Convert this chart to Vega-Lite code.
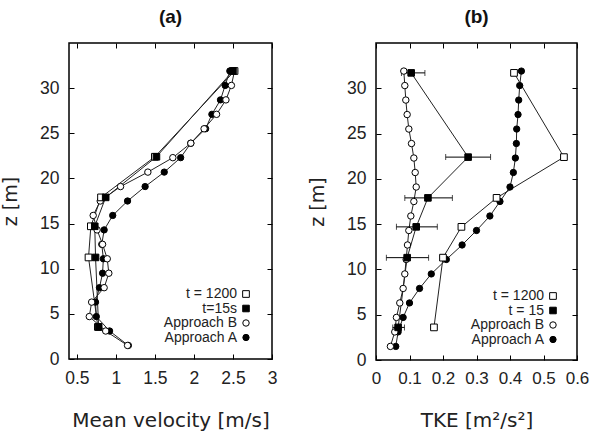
{
  "$schema": "https://vega.github.io/schema/vega-lite/v6.json",
  "background": "white",
  "padding": {"left": 0, "top": 6, "right": 5, "bottom": 5},
  "spacing": 29,
  "config": {
    "view": {"stroke": "black", "strokeWidth": 1.5},
    "font": "Liberation Sans",
    "axis": {"grid": false, "domain": false, "tickColor": "black", "tickSize": 5, "offset": -5, "tickWidth": 1, "labelFontSize": 17.5, "labelColor": "#222", "labelPadding": 10, "labelOverlap": false, "labelFlush": false, "titleFontWeight": "normal", "titleFontSize": 18, "titleColor": "#222", "format": "~g"},
    "legend": {"orient": "none", "legendX": 170, "legendY": 244, "title": null, "labelFontSize": 14, "labelColor": "#222", "labelAlign": "right", "labelOffset": -16, "rowPadding": 0.5, "symbolStrokeColor": "black", "symbolStrokeWidth": 1},
    "title": {"fontSize": 19, "fontWeight": "bold", "offset": 16, "color": "#111"}
  },
  "datasets": {
    "a": [
      {"series": "Approach A", "z": 1.5, "u": 1.16}, {"series": "Approach A", "z": 3.1, "u": 0.92}, {"series": "Approach A", "z": 4.7, "u": 0.75}, {"series": "Approach A", "z": 6.3, "u": 0.74}, {"series": "Approach A", "z": 7.9, "u": 0.79}, {"series": "Approach A", "z": 9.5, "u": 0.83}, {"series": "Approach A", "z": 11.1, "u": 0.84}, {"series": "Approach A", "z": 12.7, "u": 0.82}, {"series": "Approach A", "z": 14.3, "u": 0.85}, {"series": "Approach A", "z": 15.9, "u": 0.96}, {"series": "Approach A", "z": 17.5, "u": 1.15}, {"series": "Approach A", "z": 19.1, "u": 1.375}, {"series": "Approach A", "z": 20.7, "u": 1.62}, {"series": "Approach A", "z": 22.3, "u": 1.83}, {"series": "Approach A", "z": 23.9, "u": 1.96}, {"series": "Approach A", "z": 25.5, "u": 2.15}, {"series": "Approach A", "z": 27.1, "u": 2.23}, {"series": "Approach A", "z": 28.7, "u": 2.34}, {"series": "Approach A", "z": 30.3, "u": 2.4}, {"series": "Approach A", "z": 31.9, "u": 2.46},
      {"series": "Approach B", "z": 1.5, "u": 1.15}, {"series": "Approach B", "z": 3.1, "u": 0.87}, {"series": "Approach B", "z": 4.7, "u": 0.66}, {"series": "Approach B", "z": 6.3, "u": 0.69}, {"series": "Approach B", "z": 7.9, "u": 0.85}, {"series": "Approach B", "z": 9.5, "u": 0.91}, {"series": "Approach B", "z": 11.1, "u": 0.89}, {"series": "Approach B", "z": 12.7, "u": 0.83}, {"series": "Approach B", "z": 14.3, "u": 0.76}, {"series": "Approach B", "z": 15.9, "u": 0.71}, {"series": "Approach B", "z": 17.5, "u": 0.8}, {"series": "Approach B", "z": 19.1, "u": 1.06}, {"series": "Approach B", "z": 20.7, "u": 1.41}, {"series": "Approach B", "z": 22.3, "u": 1.73}, {"series": "Approach B", "z": 23.9, "u": 1.96}, {"series": "Approach B", "z": 25.5, "u": 2.13}, {"series": "Approach B", "z": 27.1, "u": 2.29}, {"series": "Approach B", "z": 28.7, "u": 2.41}, {"series": "Approach B", "z": 30.3, "u": 2.48}, {"series": "Approach B", "z": 31.9, "u": 2.52},
      {"series": "t = 1200", "z": 3.55, "u": 0.77}, {"series": "t = 1200", "z": 11.25, "u": 0.65}, {"series": "t = 1200", "z": 14.7, "u": 0.68}, {"series": "t = 1200", "z": 17.9, "u": 0.81}, {"series": "t = 1200", "z": 22.4, "u": 1.5}, {"series": "t = 1200", "z": 31.9, "u": 2.52},
      {"series": "t=15s", "z": 3.55, "u": 0.78}, {"series": "t=15s", "z": 11.25, "u": 0.74}, {"series": "t=15s", "z": 14.7, "u": 0.73}, {"series": "t=15s", "z": 17.9, "u": 0.87}, {"series": "t=15s", "z": 22.4, "u": 1.52}, {"series": "t=15s", "z": 31.9, "u": 2.5}
    ],
    "b": [
      {"series": "Approach A", "z": 1.5, "k": 0.059}, {"series": "Approach A", "z": 3.1, "k": 0.066}, {"series": "Approach A", "z": 4.7, "k": 0.081}, {"series": "Approach A", "z": 6.3, "k": 0.1}, {"series": "Approach A", "z": 7.9, "k": 0.13}, {"series": "Approach A", "z": 9.5, "k": 0.165}, {"series": "Approach A", "z": 11.1, "k": 0.21}, {"series": "Approach A", "z": 12.7, "k": 0.257}, {"series": "Approach A", "z": 14.3, "k": 0.3}, {"series": "Approach A", "z": 15.9, "k": 0.34}, {"series": "Approach A", "z": 17.5, "k": 0.37}, {"series": "Approach A", "z": 19.1, "k": 0.4}, {"series": "Approach A", "z": 20.7, "k": 0.41}, {"series": "Approach A", "z": 22.3, "k": 0.416}, {"series": "Approach A", "z": 23.9, "k": 0.419}, {"series": "Approach A", "z": 25.5, "k": 0.42}, {"series": "Approach A", "z": 27.1, "k": 0.424}, {"series": "Approach A", "z": 28.7, "k": 0.426}, {"series": "Approach A", "z": 30.3, "k": 0.429}, {"series": "Approach A", "z": 31.9, "k": 0.434},
      {"series": "Approach B", "z": 1.5, "k": 0.043}, {"series": "Approach B", "z": 3.1, "k": 0.056}, {"series": "Approach B", "z": 4.7, "k": 0.061}, {"series": "Approach B", "z": 6.3, "k": 0.071}, {"series": "Approach B", "z": 7.9, "k": 0.081}, {"series": "Approach B", "z": 9.5, "k": 0.086}, {"series": "Approach B", "z": 11.1, "k": 0.09}, {"series": "Approach B", "z": 12.7, "k": 0.094}, {"series": "Approach B", "z": 14.3, "k": 0.098}, {"series": "Approach B", "z": 15.9, "k": 0.104}, {"series": "Approach B", "z": 17.5, "k": 0.113}, {"series": "Approach B", "z": 19.1, "k": 0.12}, {"series": "Approach B", "z": 20.7, "k": 0.117}, {"series": "Approach B", "z": 22.3, "k": 0.113}, {"series": "Approach B", "z": 23.9, "k": 0.106}, {"series": "Approach B", "z": 25.5, "k": 0.098}, {"series": "Approach B", "z": 27.1, "k": 0.093}, {"series": "Approach B", "z": 28.7, "k": 0.089}, {"series": "Approach B", "z": 30.3, "k": 0.086}, {"series": "Approach B", "z": 31.9, "k": 0.083},
      {"series": "t = 1200", "z": 3.6, "k": 0.173}, {"series": "t = 1200", "z": 11.3, "k": 0.2}, {"series": "t = 1200", "z": 14.7, "k": 0.255}, {"series": "t = 1200", "z": 17.9, "k": 0.36}, {"series": "t = 1200", "z": 22.4, "k": 0.561}, {"series": "t = 1200", "z": 31.7, "k": 0.412},
      {"series": "t = 15", "z": 3.6, "k": 0.066, "lo": 0.05, "hi": 0.085}, {"series": "t = 15", "z": 11.3, "k": 0.093, "lo": 0.031, "hi": 0.157}, {"series": "t = 15", "z": 14.7, "k": 0.12, "lo": 0.061, "hi": 0.183}, {"series": "t = 15", "z": 17.9, "k": 0.155, "lo": 0.086, "hi": 0.228}, {"series": "t = 15", "z": 22.4, "k": 0.275, "lo": 0.208, "hi": 0.342}, {"series": "t = 15", "z": 31.7, "k": 0.105, "lo": 0.076, "hi": 0.146}
    ]
  },
  "resolve": {"scale": {"shape": "independent", "fill": "independent", "size": "independent", "stroke": "independent"}, "legend": {"shape": "independent", "fill": "independent", "size": "independent", "stroke": "independent"}},
  "hconcat": [
    {
      "title": "(a)",
      "width": 203,
      "height": 316,
      "data": {"name": "a"},
      "resolve": {"axis": {"x": "independent", "y": "independent"}},
      "layer": [
        {
          "mark": {"type": "line", "color": "#222", "strokeWidth": 1},
          "encoding": {
            "x": {"field": "u", "type": "quantitative", "scale": {"domain": [0.5, 3]}, "axis": {"values": [0.5, 1, 1.5, 2, 2.5, 3], "title": "Mean velocity [m/s]", "titleFont": "DejaVu Sans", "titleFontSize": 20, "titlePadding": 24}},
            "y": {"field": "z", "type": "quantitative", "scale": {"domain": [0, 34]}, "axis": {"values": [0, 5, 10, 15, 20, 25, 30], "title": "z [m]", "titleFont": "DejaVu Sans", "titleFontSize": 19, "titlePadding": 19}},
            "detail": {"field": "series"},
            "order": {"field": "z"}
          }
        },
        {
          "mark": {"type": "point", "filled": true, "strokeWidth": 1, "opacity": 1},
          "encoding": {
            "x": {"field": "u", "type": "quantitative", "axis": null},
            "y": {"field": "z", "type": "quantitative", "axis": null},
            "shape": {"field": "series", "type": "nominal", "scale": {"domain": ["t = 1200", "t=15s", "Approach B", "Approach A"], "range": ["square", "square", "circle", "circle"]}},
            "fill": {"field": "series", "type": "nominal", "scale": {"domain": ["t = 1200", "t=15s", "Approach B", "Approach A"], "range": ["white", "black", "white", "black"]}},
            "stroke": {"field": "series", "type": "nominal", "scale": {"domain": ["t = 1200", "t=15s", "Approach B", "Approach A"], "range": ["black", "black", "black", "black"]}},
            "size": {"field": "series", "type": "nominal", "scale": {"domain": ["t = 1200", "t=15s", "Approach B", "Approach A"], "range": [45, 40, 40, 18]}}
          }
        },
        {
          "mark": {"type": "point", "opacity": 0},
          "encoding": {
            "x": {"field": "u", "type": "quantitative", "axis": {"orient": "top", "values": [0.5, 1, 1.5, 2, 2.5, 3], "labels": false, "title": null}},
            "y": {"field": "z", "type": "quantitative", "axis": {"orient": "right", "values": [0, 5, 10, 15, 20, 25, 30], "labels": false, "title": null}}
          }
        }
      ]
    },
    {
      "title": "(b)",
      "width": 201,
      "height": 317,
      "data": {"name": "b"},
      "resolve": {"axis": {"x": "independent", "y": "independent"}},
      "layer": [
        {
          "mark": {"type": "line", "color": "#222", "strokeWidth": 1},
          "encoding": {
            "x": {"field": "k", "type": "quantitative", "scale": {"domain": [0, 0.6]}, "axis": {"values": [0, 0.1, 0.2, 0.3, 0.4, 0.5, 0.6], "labelFontSize": 17, "title": "TKE [m²/s²]", "titleFont": "DejaVu Sans", "titleFontSize": 20, "titlePadding": 24}},
            "y": {"field": "z", "type": "quantitative", "scale": {"domain": [0, 34]}, "axis": {"values": [0, 5, 10, 15, 20, 25, 30], "title": "z [m]", "titleFont": "DejaVu Sans", "titleFontSize": 19, "titlePadding": 19}},
            "detail": {"field": "series"},
            "order": {"field": "z"}
          }
        },
        {
          "transform": [{"filter": "datum.series === 't = 15'"}],
          "mark": {"type": "errorbar", "ticks": {"size": 6, "color": "black"}, "rule": {"color": "black"}},
          "encoding": {
            "x": {"field": "lo", "type": "quantitative", "axis": null},
            "x2": {"field": "hi"},
            "y": {"field": "z", "type": "quantitative", "axis": null}
          }
        },
        {
          "mark": {"type": "point", "filled": true, "strokeWidth": 1, "opacity": 1},
          "encoding": {
            "x": {"field": "k", "type": "quantitative", "axis": null},
            "y": {"field": "z", "type": "quantitative", "axis": null},
            "shape": {"field": "series", "type": "nominal", "scale": {"domain": ["t = 1200", "t = 15", "Approach B", "Approach A"], "range": ["square", "square", "circle", "circle"]}, "legend": {"legendY": 246}},
            "fill": {"field": "series", "type": "nominal", "scale": {"domain": ["t = 1200", "t = 15", "Approach B", "Approach A"], "range": ["white", "black", "white", "black"]}, "legend": {"legendY": 246}},
            "stroke": {"field": "series", "type": "nominal", "scale": {"domain": ["t = 1200", "t = 15", "Approach B", "Approach A"], "range": ["black", "black", "black", "black"]}, "legend": {"legendY": 246}},
            "size": {"field": "series", "type": "nominal", "scale": {"domain": ["t = 1200", "t = 15", "Approach B", "Approach A"], "range": [45, 40, 40, 18]}, "legend": {"legendY": 246}}
          }
        },
        {
          "mark": {"type": "point", "opacity": 0},
          "encoding": {
            "x": {"field": "k", "type": "quantitative", "axis": {"orient": "top", "values": [0, 0.1, 0.2, 0.3, 0.4, 0.5, 0.6], "labels": false, "title": null}},
            "y": {"field": "z", "type": "quantitative", "axis": {"orient": "right", "values": [0, 5, 10, 15, 20, 25, 30], "labels": false, "title": null}}
          }
        }
      ]
    }
  ]
}
